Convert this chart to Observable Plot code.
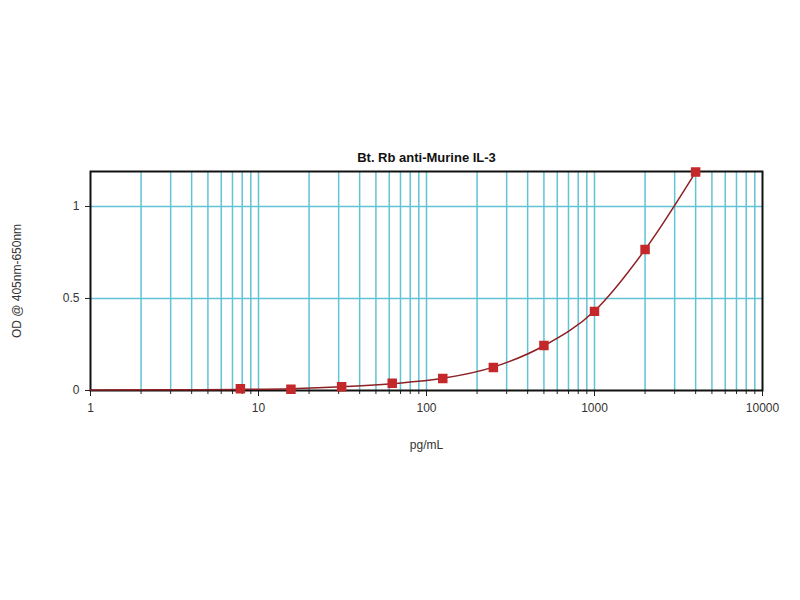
<!DOCTYPE html>
<html>
<head>
<meta charset="utf-8">
<script src="https://cdn.jsdelivr.net/npm/d3@7"></script>
<script src="https://cdn.jsdelivr.net/npm/@observablehq/plot@0.6"></script>
<style>
  html, body { margin: 0; padding: 0; background: #fff; }
  #chart svg { display: block; }
</style>
</head>
<body>
<div id="chart"></div>
<script>
// Standard concentrations (pg/mL) and measured OD
const conc = [7.8, 15.6, 31.25, 62.5, 125, 250, 500, 1000, 2000, 4000];
const od   = [0.010, 0.007, 0.020, 0.040, 0.065, 0.125, 0.245, 0.430, 0.766, 1.187];
const curveX = [1, 3, 7.8, 15.6, 31.25, 62.5, 125, 250, 500, 1000, 2000, 4000];
const curveY = [0.003, 0.004, 0.006, 0.010, 0.020, 0.037, 0.066, 0.127, 0.243, 0.432, 0.766, 1.187];
const xMajor = [1, 10, 100, 1000, 10000];
const xMinor = [2,3,4,5,6,7,8,9,20,30,40,50,60,70,80,90,200,300,400,500,600,700,800,900,2000,3000,4000,5000,6000,7000,8000,9000];
const yTicks = [0, 0.5, 1];
const yGrid = [0.5, 1];
const title = "Bt. Rb anti-Murine IL-3";

const points = conc.map((c, i) => ({x: c, y: od[i]}));
const curve = curveX.map((c, i) => ({x: c, y: curveY[i]}));
const gridX = xMinor.concat(xMajor.slice(1, 4));

const chart = Plot.plot({
  width: 800,
  height: 600,
  marginLeft: 90,
  marginRight: 38,
  marginTop: 171,
  marginBottom: 210,
  style: {fontFamily: "Liberation Sans, Arial, sans-serif", fontSize: "12px", color: "#333", background: "#fff"},
  x: {type: "log", domain: [1, 10000]},
  y: {domain: [0, 1.19]},
  marks: [
    Plot.gridX(gridX, {stroke: "#62c3d5", strokeOpacity: 1, strokeWidth: 1.5}),
    Plot.gridY(yGrid, {stroke: "#62c3d5", strokeOpacity: 1, strokeWidth: 1.5}),
    Plot.axisX(xMinor, {tickSize: 4, tickFormat: () => "", stroke: "#222", label: null}),
    Plot.axisX(xMajor, {tickSize: 6, tickPadding: 7, tickFormat: d3.format("d"), stroke: "#222", fill: "#333",
      label: "pg/mL", labelAnchor: "center", labelOffset: 58, labelArrow: "none"}),
    Plot.axisY(yTicks, {tickSize: 5, tickPadding: 6, tickFormat: d => String(d), stroke: "#222", fill: "#333",
      label: "OD @ 405nm-650nm", labelAnchor: "center", labelOffset: 78, labelArrow: "none"}),
    Plot.frame({stroke: "#111", strokeWidth: 2}),
    Plot.line(curve, {x: "x", y: "y", curve: "monotone-x", stroke: "#8e1f22", strokeWidth: 1.5}),
    Plot.dot(points, {x: "x", y: "y", symbol: "square", r: 4.5, fill: "#c4282b", stroke: "#c4282b"}),
    Plot.text([title], {frameAnchor: "top", dy: -19, fontWeight: "bold", fontSize: 13, fill: "#111", text: d => d})
  ]
});
document.getElementById("chart").appendChild(chart);
</script>
</body>
</html>
